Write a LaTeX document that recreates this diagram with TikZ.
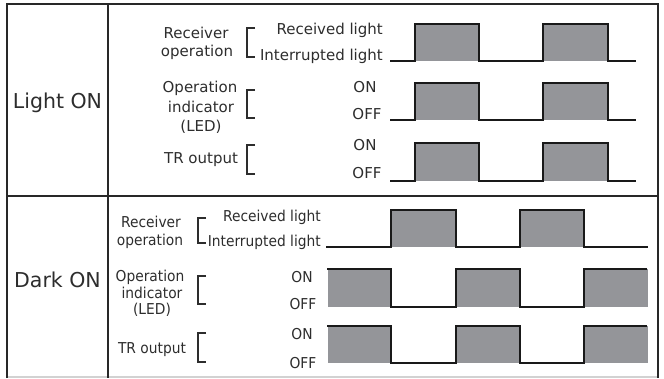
\documentclass[tikz,border=0pt]{standalone}
\usepackage{fontspec}
\setmainfont{DejaVu Sans}
\newfontfamily\lfont{DejaVu Sans}
\newfontfamily\dfont[FakeStretch=0.92]{DejaVu Sans}
\definecolor{pulse}{RGB}{148,149,153}
\definecolor{ink}{RGB}{45,45,45}
\definecolor{frame}{RGB}{40,40,40}
\begin{document}
\begin{tikzpicture}[x=1bp,y=-1bp,
  lt/.style={font=\lfont\fontsize{15bp}{18bp}\selectfont, text=ink, inner sep=0pt, anchor=base},
  dt/.style={font=\dfont\fontsize{15bp}{18bp}\selectfont, text=ink, inner sep=0pt, anchor=base},
  big/.style={font=\lfont\fontsize{20.5bp}{24bp}\selectfont, text=ink, inner sep=0pt, anchor=base},
  framel/.style={line width=1.8bp, draw=frame},
  wave/.style={line width=2.4bp, draw=black!90, line join=miter},
  brk/.style={line width=1.4bp, draw=ink},
  pfill/.style={fill=pulse}]
\useasboundingbox (0,0) rectangle (664,378);
% frame
\draw[gray!35, line width=1.5bp] (7,377) -- (658,377);
\draw[framel] (7,378) -- (7,4) -- (658,4) -- (658,378);
\draw[framel] (108,4) -- (108,378);
\draw[framel] (7,196) -- (658,196);

% ---------- Light ON ----------
\node[big] (lighton) at (57.5,108) {Light ON};
\node[lt] (lrecv) at (196,38) {Receiver};
\node[lt] (lop) at (197,56) {operation};
\node[lt, anchor=base east] (lrl) at (383,34) {Received light};
\node[lt, anchor=base east] (lil) at (383,60) {Interrupted light};
\node[lt] (lopi1) at (200,92) {Operation};
\node[lt] (lopi2) at (201,112) {indicator};
\node[lt] (lopi3) at (201,131) {(LED)};
\node[lt] (lon2) at (365,92) {ON};
\node[lt] (loff2) at (367,119) {OFF};
\node[lt] (ltr) at (201,163) {TR output};
\node[lt] (lon3) at (365,150) {ON};
\node[lt] (loff3) at (367,178) {OFF};
\foreach \t/\b in {28/57, 90/118, 145/174}
  \draw[brk] (255,\t) -- (247,\t) -- (247,\b) -- (255,\b);
\foreach \hi/\lo in {24/61, 83/120, 143/181}{
  \fill[pfill] (415,\hi) rectangle (479,\lo);
  \fill[pfill] (543,\hi) rectangle (608,\lo);
  \draw[wave] (390,\lo) -- (415,\lo) -- (415,\hi) -- (479,\hi) -- (479,\lo)
     -- (543,\lo) -- (543,\hi) -- (608,\hi) -- (608,\lo) -- (636,\lo);
}

% ---------- Dark ON ----------
\node[big] (darkon) at (57.5,287) {Dark ON};
\node[dt] (drecv) at (151,227) {Receiver};
\node[dt] (dop) at (150,245) {operation};
\node[dt, anchor=base east] (drl) at (321,221) {Received light};
\node[dt, anchor=base east] (dil) at (321,246) {Interrupted light};
\node[dt] (dopi1) at (150,281) {Operation};
\node[dt] (dopi2) at (152,298) {indicator};
\node[dt] (dopi3) at (152,314) {(LED)};
\node[dt] (dtr) at (152,353) {TR output};
\node[dt] (don2) at (302,282) {ON};
\node[dt] (doff2) at (303,309) {OFF};
\node[dt] (don3) at (302,339) {ON};
\node[dt] (doff3) at (303,368) {OFF};
\foreach \t/\b in {218/243, 276/304, 333/362}
  \draw[brk] (206,\t) -- (198,\t) -- (198,\b) -- (206,\b);
% row 1
\fill[pfill] (391,210) rectangle (456,247);
\fill[pfill] (520,210) rectangle (584,247);
\draw[wave] (326,247) -- (391,247) -- (391,210) -- (456,210) -- (456,247)
   -- (520,247) -- (520,210) -- (584,210) -- (584,247) -- (648,247);
% rows 2 and 3
\foreach \hi/\lo in {269/307, 326/363}{
  \fill[pfill] (328,\hi) rectangle (391,\lo);
  \fill[pfill] (456,\hi) rectangle (520,\lo);
  \fill[pfill] (584,\hi) rectangle (648,\lo);
  \draw[wave] (327,\hi) -- (391,\hi) -- (391,\lo) -- (456,\lo) -- (456,\hi)
     -- (520,\hi) -- (520,\lo) -- (584,\lo) -- (584,\hi) -- (647,\hi);
}
\end{tikzpicture}
\end{document}
